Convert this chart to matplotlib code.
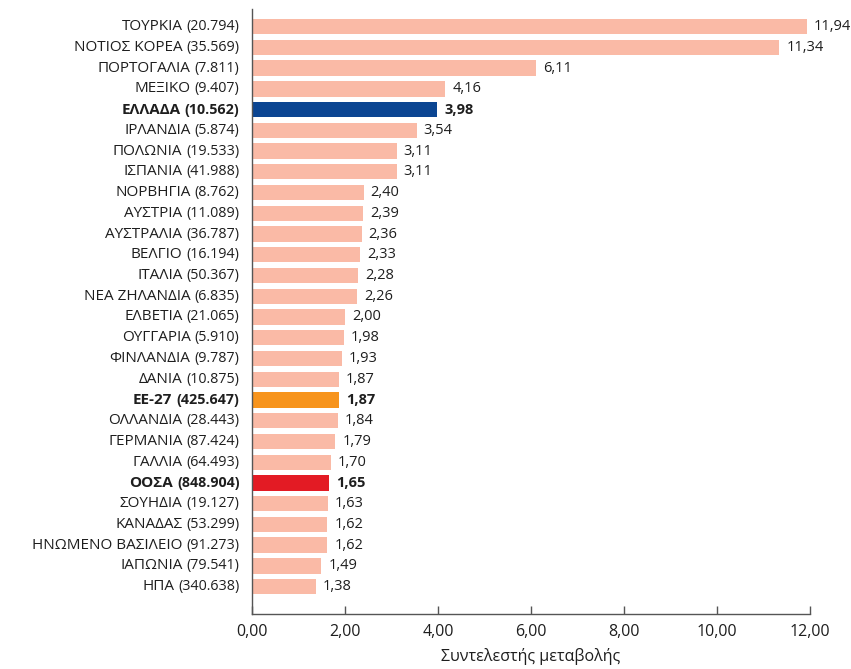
import matplotlib
matplotlib.use("Agg")
import matplotlib.pyplot as plt

plt.rcParams['font.family'] = ['Open Sans', 'DejaVu Sans']

countries = ["ΤΟΥΡΚΙΑ", "ΝΟΤΙΟΣ ΚΟΡΕΑ", "ΠΟΡΤΟΓΑΛΙΑ", "ΜΕΞΙΚΟ", "ΕΛΛΑΔΑ",
             "ΙΡΛΑΝΔΙΑ", "ΠΟΛΩΝΙΑ", "ΙΣΠΑΝΙΑ", "ΝΟΡΒΗΓΙΑ", "ΑΥΣΤΡΙΑ",
             "ΑΥΣΤΡΑΛΙΑ", "ΒΕΛΓΙΟ", "ΙΤΑΛΙΑ", "ΝΕΑ ΖΗΛΑΝΔΙΑ", "ΕΛΒΕΤΙΑ",
             "ΟΥΓΓΑΡΙΑ", "ΦΙΝΛΑΝΔΙΑ", "ΔΑΝΙΑ", "ΕΕ-27", "ΟΛΛΑΝΔΙΑ",
             "ΓΕΡΜΑΝΙΑ", "ΓΑΛΛΙΑ", "ΟΟΣΑ", "ΣΟΥΗΔΙΑ", "ΚΑΝΑΔΑΣ",
             "ΗΝΩΜΕΝΟ ΒΑΣΙΛΕΙΟ", "ΙΑΠΩΝΙΑ", "ΗΠΑ"]
counts = ["20.794", "35.569", "7.811", "9.407", "10.562",
          "5.874", "19.533", "41.988", "8.762", "11.089",
          "36.787", "16.194", "50.367", "6.835", "21.065",
          "5.910", "9.787", "10.875", "425.647", "28.443",
          "87.424", "64.493", "848.904", "19.127", "53.299",
          "91.273", "79.541", "340.638"]
values = [11.94, 11.34, 6.11, 4.16, 3.98,
          3.54, 3.11, 3.11, 2.40, 2.39,
          2.36, 2.33, 2.28, 2.26, 2.00,
          1.98, 1.93, 1.87, 1.87, 1.84,
          1.79, 1.70, 1.65, 1.63, 1.62,
          1.62, 1.49, 1.38]
highlight = {"ΕΛΛΑΔΑ": "#0B4592", "ΕΕ-27": "#F7941D", "ΟΟΣΑ": "#E31B24"}
base_color = "#FABAA6"
xticks = [0, 2, 4, 6, 8, 10, 12]

fig = plt.figure(figsize=(8.51, 6.69), dpi=100)
ax = fig.add_axes([252 / 851, 1 - 614 / 669, 558 / 851, 605 / 669])

n = len(countries)
ypos = [n - 1 - i for i in range(n)]
colors = [highlight.get(c, base_color) for c in countries]
ax.barh(ypos, values, height=0.74, color=colors)

ax.set_xlim(0, 12)
ax.set_ylim(-1.32, n - 1 + 0.85)
ax.set_xticks(xticks)
ax.set_xticklabels([f"{t:.2f}".replace(".", ",") for t in xticks], fontsize=11.5, color="#1e1e1e")
ax.set_yticks([])
ax.tick_params(axis='x', direction='in', length=6, width=1, color="#555555", pad=7)
for s in ["top", "right"]:
    ax.spines[s].set_visible(False)
for s in ["left", "bottom"]:
    ax.spines[s].set_color("#555555")
    ax.spines[s].set_linewidth(1)
ax.set_xlabel("Συντελεστής μεταβολής", fontsize=11.5, color="#1e1e1e", labelpad=6)

for y, v, c in zip(ypos, values, countries):
    bold = c in highlight
    ax.annotate(f"{v:.2f}".replace(".", ","), (v, y), xytext=(5, 0), textcoords="offset points",
                va="center", ha="left", fontsize=10.5, color="#1e1e1e",
                fontweight="bold" if bold else "normal")

fig.canvas.draw()
renderer = fig.canvas.get_renderer()
for y, c, k in zip(ypos, countries, counts):
    bold = c in highlight
    t = ax.annotate(f"({k})", (0, y), xytext=(-9, 0), textcoords="offset points",
                    va="center", ha="right", fontsize=10.3, color="#1e1e1e",
                    fontweight="bold" if bold else "normal")
    w = t.get_window_extent(renderer).width * 72 / fig.dpi
    ax.annotate(c, (0, y), xytext=(-9 - w - 3, 0), textcoords="offset points",
                va="center", ha="right", fontsize=11, color="#1e1e1e",
                fontweight="bold" if bold else "normal")

fig.savefig("out.png", dpi=100)
